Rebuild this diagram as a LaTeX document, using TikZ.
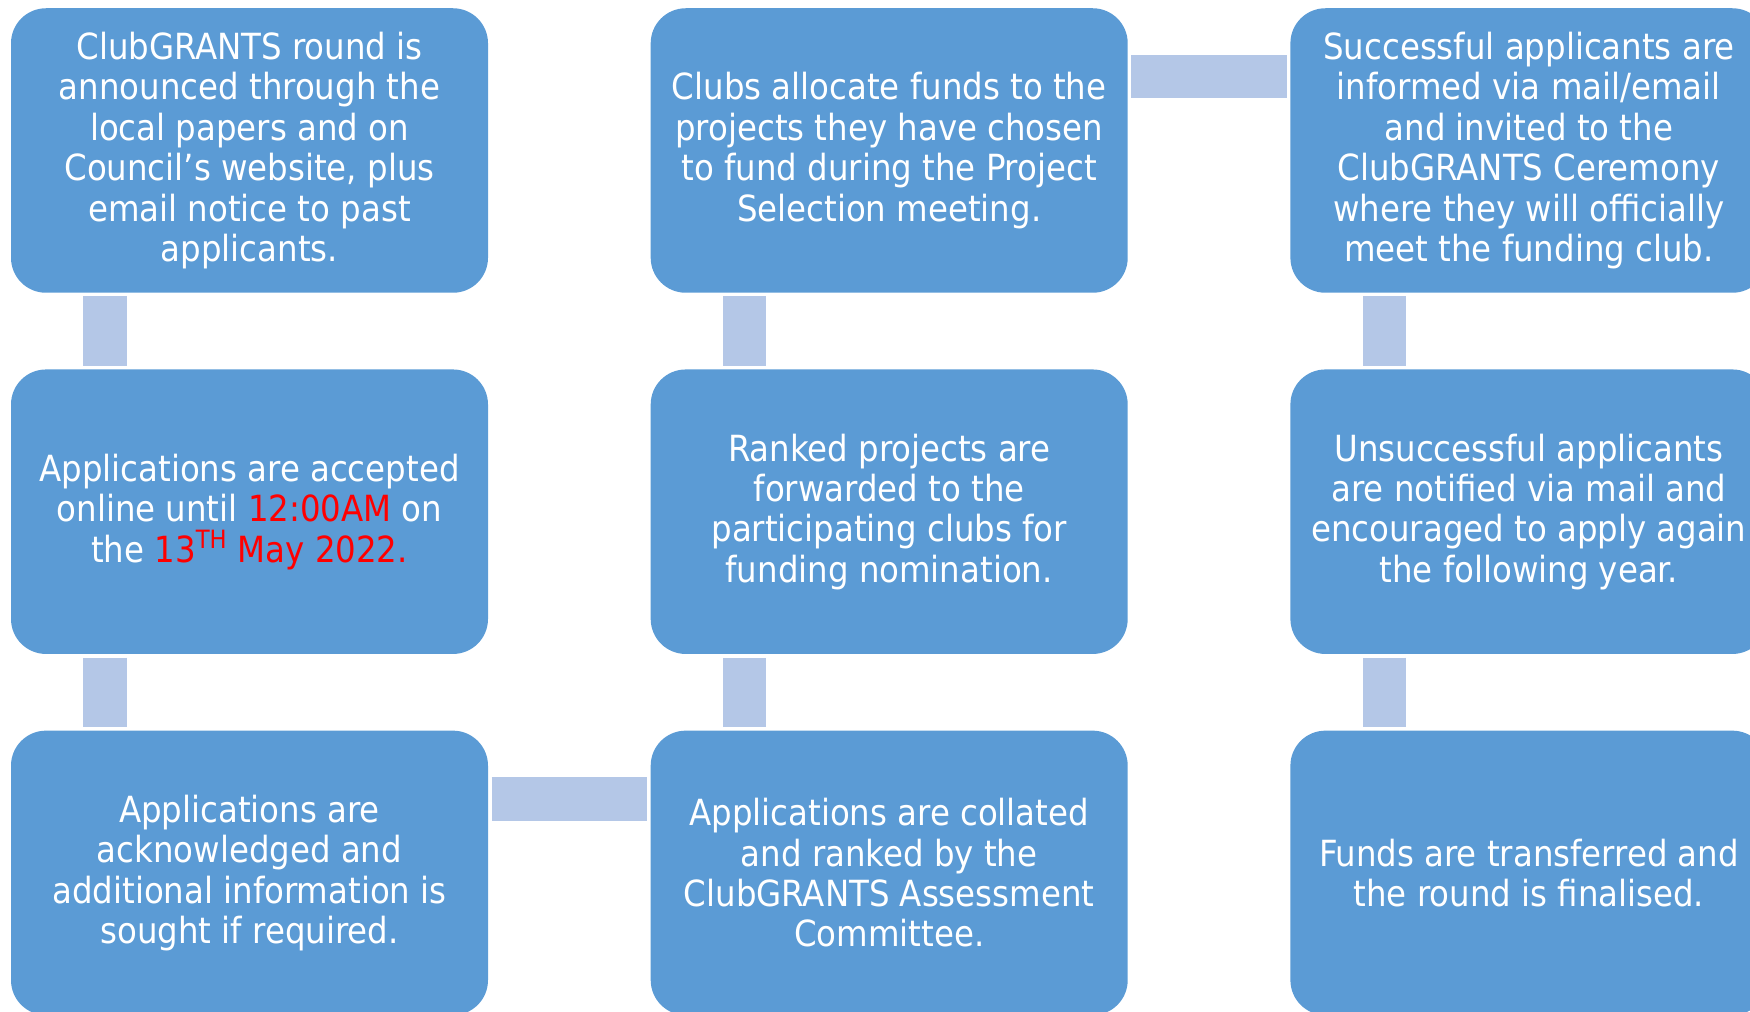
\documentclass[tikz,border=0pt]{standalone}
\usepackage{fontspec}
\setmainfont{DejaVu Sans Condensed}
\usetikzlibrary{positioning}
\definecolor{boxblue}{HTML}{5B9BD5}
\definecolor{linkblue}{HTML}{B4C7E7}
\definecolor{hotred}{HTML}{FF0000}

\begin{document}
\begin{tikzpicture}[
    stepbox/.style={rectangle, rounded corners=0.7cm, fill=boxblue, minimum width=9.54cm, minimum height=5.69cm, text=white, align=center, font=\fontsize{20.5}{23}\selectfont},
    link/.style={draw=linkblue, line width=0.87cm, shorten <=0.065cm, shorten >=0.065cm},
  ]
    \useasboundingbox (0,0) rectangle (35,-20.24);
    \clip (0,0) rectangle (35,-20.24);

    % Column 1
    \node[stepbox] (announce) at (4.99,-3.01) {ClubGRANTS round is\\announced through the\\local papers and on\\Council’s website, plus\\email notice to past\\applicants.};
    \node[stepbox, below=1.52cm of announce] (accept) {Applications are accepted\\online until \textcolor{hotred}{12:00AM} on\\the \textcolor{hotred}{13\textsuperscript{TH} May 2022.}};
    \node[stepbox, below=1.52cm of accept] (acknowledge) {Applications are\\acknowledged and\\additional information is\\sought if required.};

    % Column 2
    \node[stepbox, right=3.24cm of acknowledge] (collate) {Applications are collated\\and ranked by the\\ClubGRANTS Assessment\\Committee.};
    \node[stepbox, above=1.52cm of collate] (rank) {Ranked projects are\\forwarded to the\\participating clubs for\\funding nomination.};
    \node[stepbox, above=1.52cm of rank] (allocate) {Clubs allocate funds to the\\projects they have chosen\\to fund during the Project\\Selection meeting.};

    % Column 3
    \node[stepbox, right=3.24cm of allocate] (inform) {Successful applicants are\\informed via mail/email\\and invited to the\\ClubGRANTS Ceremony\\where they will officially\\meet the funding club.};
    \node[stepbox, below=1.52cm of inform] (notify) {Unsuccessful applicants\\are notified via mail and\\encouraged to apply again\\the following year.};
    \node[stepbox, below=1.52cm of notify] (finalise) {Funds are transferred and\\the round is finalised.};

    % Connectors
    \draw[link] ([xshift=-2.89cm]announce.south) -- ([xshift=-2.89cm]accept.north);
    \draw[link] ([xshift=-2.89cm]accept.south) -- ([xshift=-2.89cm]acknowledge.north);
    \draw[link] ([yshift=1.48cm]acknowledge.east) -- ([yshift=1.48cm]collate.west);
    \draw[link] ([xshift=-2.89cm]collate.north) -- ([xshift=-2.89cm]rank.south);
    \draw[link] ([xshift=-2.89cm]rank.north) -- ([xshift=-2.89cm]allocate.south);
    \draw[link] ([yshift=1.48cm]allocate.east) -- ([yshift=1.48cm]inform.west);
    \draw[link] ([xshift=-2.89cm]inform.south) -- ([xshift=-2.89cm]notify.north);
    \draw[link] ([xshift=-2.89cm]notify.south) -- ([xshift=-2.89cm]finalise.north);
\end{tikzpicture}
\end{document}
